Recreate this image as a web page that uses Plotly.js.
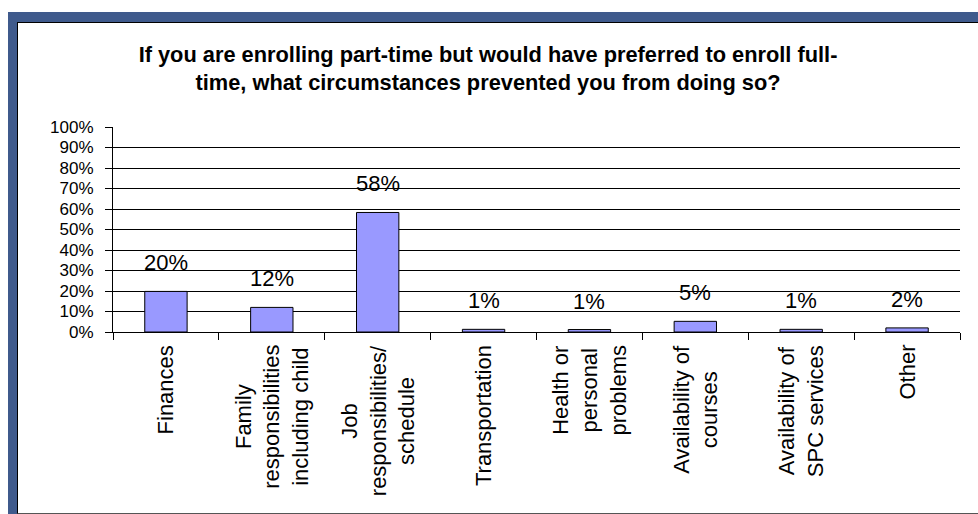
<!DOCTYPE html>
<html>
<head>
<meta charset="utf-8">
<script src="https://cdn.plot.ly/plotly-3.0.1.min.js"></script>
<style>
  html, body { margin: 0; padding: 0; background: #ffffff; width: 978px; height: 514px; overflow: hidden; }
  #outer { position: absolute; left: 8px; top: 12px; width: 1000px; height: 520px; background: #3F5A8C; }
  #inner { position: absolute; left: 17px; top: 22px; width: 1000px; height: 490px; background: #ffffff; border-left: 1px solid #000; border-top: 1px solid #000; border-bottom: 1px solid #555; }
  #chart { position: absolute; left: 0; top: 0; width: 978px; height: 514px; }
</style>
</head>
<body>
<div id="outer"></div>
<div id="inner"></div>
<div id="chart"></div>
<script>
const categories = [
  "Finances",
  "Family<br>responsibilities<br>including child",
  "Job<br>responsibilities/<br>schedule",
  "Transportation",
  "Health or<br>personal<br>problems",
  "Availability of<br>courses",
  "Availability of<br>SPC services",
  "Other"
];
const percentValues = [19.8, 12.0, 58.3, 1.3, 1.2, 5.2, 1.3, 2.0];
const yTickValues = [0, 10, 20, 30, 40, 50, 60, 70, 80, 90, 100];
const yTickLabels = ["0%", "10%", "20%", "30%", "40%", "50%", "60%", "70%", "80%", "90%", "100%"];
const chartTitle = "If you are enrolling part-time but would have preferred to enroll full-<br>time, what circumstances prevented you from doing so?";

const FONT = "'Liberation Sans', Arial, sans-serif";

const trace = {
  type: "bar",
  x: categories,
  y: percentValues,
  marker: { color: "#9999FF", line: { color: "#000000", width: 1 } },
  hoverinfo: "skip"
};

const labelAnnotations = categories.map((c, i) => ({
  x: c, y: percentValues[i], xref: "x", yref: "y",
  text: Math.round(percentValues[i]) + "%",
  showarrow: false, yanchor: "bottom", yshift: 14,
  font: { family: FONT, size: 22, color: "#000" }
}));

// category labels, rotated, with centred lines (as in the reference)
const categoryAnnotations = categories.map(c => ({
  x: c, y: 0, xref: "x", yref: "paper",
  text: c, textangle: -90, align: "center",
  showarrow: false, xanchor: "center", yanchor: "top", yshift: -11,
  font: { family: FONT, size: 22, color: "#000" }
}));

const layout = {
  width: 978, height: 514,
  paper_bgcolor: "rgba(0,0,0,0)",
  plot_bgcolor: "rgba(0,0,0,0)",
  margin: { l: 113, r: 18, t: 127, b: 182 },
  showlegend: false,
  bargap: 0.6,
  font: { family: FONT, size: 22, color: "#000" },
  title: {
    text: chartTitle,
    font: { family: FONT, size: 21.8, color: "#000", weight: "bold" },
    x: 0.499, xref: "container", xanchor: "center",
    y: 1 - 62 / 514, yref: "container", yanchor: "top"
  },
  xaxis: {
    type: "category",
    ticks: "outside", ticklen: 7, tickcolor: "#000", tickwidth: 1,
    tickson: "boundaries",
    showticklabels: false,
    showline: true, linecolor: "#000", linewidth: 1,
    showgrid: false,
    fixedrange: true
  },
  yaxis: {
    range: [0, 100],
    tickvals: yTickValues,
    ticktext: yTickLabels,
    ticks: "outside", ticklen: 7, tickcolor: "#000", tickwidth: 1,
    ticklabelstandoff: 8,
    showline: true, linecolor: "#000", linewidth: 1,
    showgrid: true, gridcolor: "#000", gridwidth: 1,
    zeroline: false,
    tickfont: { family: FONT, size: 17, color: "#000" },
    fixedrange: true
  },
  annotations: labelAnnotations.concat(categoryAnnotations)
};

Plotly.newPlot("chart", [trace], layout, { displayModeBar: false, staticPlot: true });
</script>
</body>
</html>
